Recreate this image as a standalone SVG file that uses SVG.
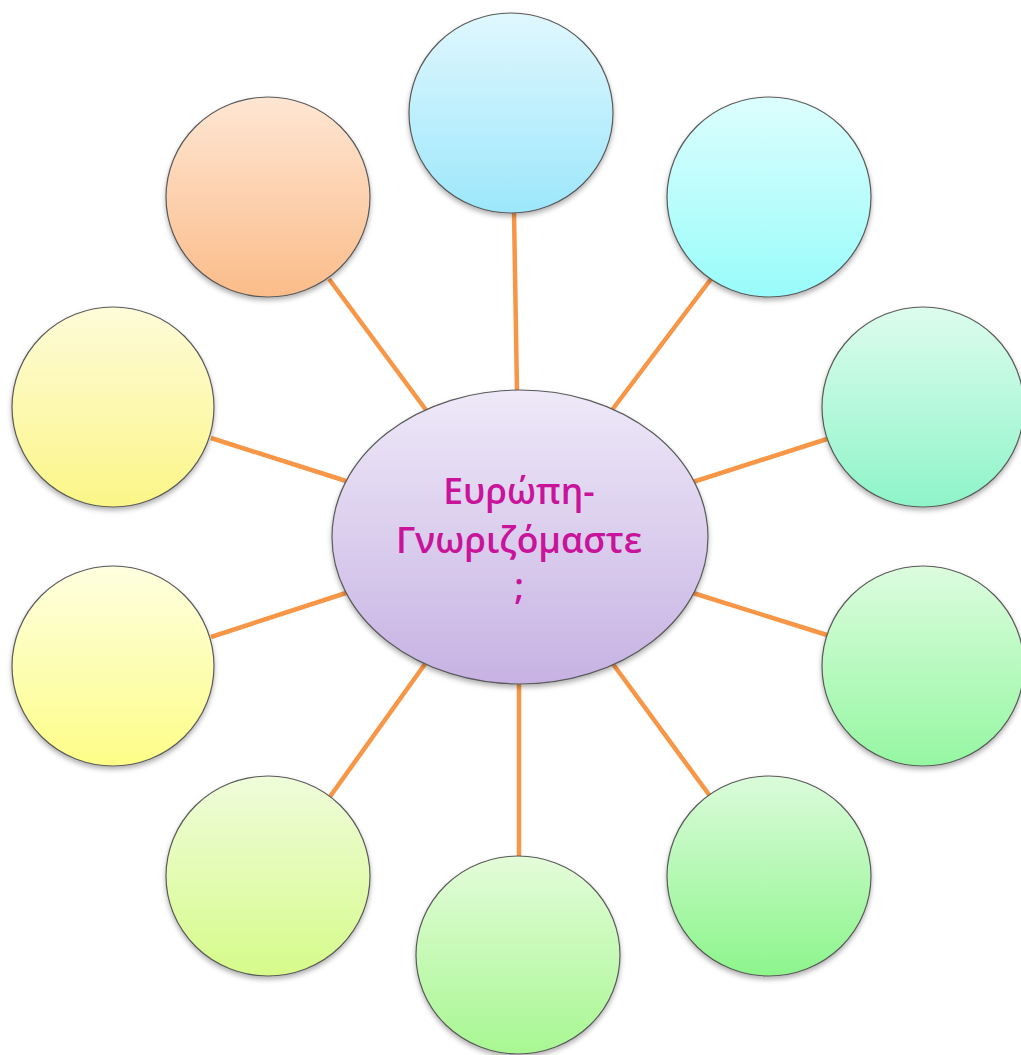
<svg xmlns="http://www.w3.org/2000/svg" width="1021" height="1055" viewBox="0 0 1021 1055">
<style>
.node{stroke:#5a5a5a;stroke-width:1.2;filter:url(#sh)}
.conn line{stroke:#F79646;stroke-width:4.5;stroke-linecap:butt}
.lbl{font-family:"Open Sans","Noto Sans","DejaVu Sans",sans-serif;font-size:35.5px;font-weight:600;fill:#C8139A;text-anchor:middle}
</style>
<defs>
<filter id="sh" x="-10%" y="-10%" width="120%" height="125%">
<feDropShadow dx="0" dy="3" stdDeviation="2.5" flood-color="#000" flood-opacity="0.3"/>
</filter>
<linearGradient id="gC" x1="0" y1="0" x2="0" y2="1"><stop offset="0" stop-color="#EEE9F8"/><stop offset="1" stop-color="#C7B2E3"/></linearGradient>
<linearGradient id="g1" x1="0" y1="0" x2="0" y2="1"><stop offset="0" stop-color="#E0F7FE"/><stop offset="1" stop-color="#9CE7FB"/></linearGradient>
<linearGradient id="g2" x1="0" y1="0" x2="0" y2="1"><stop offset="0" stop-color="#DCFEFD"/><stop offset="1" stop-color="#98FCFA"/></linearGradient>
<linearGradient id="g3" x1="0" y1="0" x2="0" y2="1"><stop offset="0" stop-color="#DDFCEE"/><stop offset="1" stop-color="#8EF4C8"/></linearGradient>
<linearGradient id="g4" x1="0" y1="0" x2="0" y2="1"><stop offset="0" stop-color="#DCFCDE"/><stop offset="1" stop-color="#95F7A2"/></linearGradient>
<linearGradient id="g5" x1="0" y1="0" x2="0" y2="1"><stop offset="0" stop-color="#DBFBDA"/><stop offset="1" stop-color="#8DF58C"/></linearGradient>
<linearGradient id="g6" x1="0" y1="0" x2="0" y2="1"><stop offset="0" stop-color="#E3FCD9"/><stop offset="1" stop-color="#A8F792"/></linearGradient>
<linearGradient id="g7" x1="0" y1="0" x2="0" y2="1"><stop offset="0" stop-color="#EFFCDA"/><stop offset="1" stop-color="#D6FB8A"/></linearGradient>
<linearGradient id="g8" x1="0" y1="0" x2="0" y2="1"><stop offset="0" stop-color="#FEFFDF"/><stop offset="1" stop-color="#FDFD87"/></linearGradient>
<linearGradient id="g9" x1="0" y1="0" x2="0" y2="1"><stop offset="0" stop-color="#FEFBD9"/><stop offset="1" stop-color="#FBF687"/></linearGradient>
<linearGradient id="g10" x1="0" y1="0" x2="0" y2="1"><stop offset="0" stop-color="#FEE6D3"/><stop offset="1" stop-color="#FBBC89"/></linearGradient>
</defs>
<rect width="1021" height="1055" fill="#fff"/>
<g id="connectors" class="conn">
<line x1="517" y1="392" x2="514" y2="212"/>
<line x1="612" y1="410" x2="711" y2="279"/>
<line x1="693" y1="482" x2="827" y2="439"/>
<line x1="693" y1="593" x2="827" y2="635"/>
<line x1="613" y1="664" x2="710" y2="796"/>
<line x1="519" y1="683" x2="519" y2="858"/>
<line x1="425" y1="664" x2="329" y2="798"/>
<line x1="346" y1="593" x2="211" y2="637"/>
<line x1="346" y1="481" x2="211" y2="438"/>
<line x1="426" y1="410" x2="329" y2="279"/>
</g>
<g id="n1"><ellipse class="node" cx="511" cy="113" rx="102" ry="100" fill="url(#g1)"/></g>
<g id="n2"><ellipse class="node" cx="769" cy="197" rx="102" ry="100" fill="url(#g2)"/></g>
<g id="n3"><ellipse class="node" cx="923" cy="407" rx="101" ry="100" fill="url(#g3)"/></g>
<g id="n4"><ellipse class="node" cx="923" cy="666" rx="101" ry="100" fill="url(#g4)"/></g>
<g id="n5"><ellipse class="node" cx="769" cy="876" rx="102" ry="100" fill="url(#g5)"/></g>
<g id="n6"><ellipse class="node" cx="518" cy="955" rx="102" ry="99" fill="url(#g6)"/></g>
<g id="n7"><ellipse class="node" cx="268" cy="876" rx="102" ry="100" fill="url(#g7)"/></g>
<g id="n8"><ellipse class="node" cx="113" cy="666" rx="101" ry="100" fill="url(#g8)"/></g>
<g id="n9"><ellipse class="node" cx="113" cy="407" rx="101" ry="100" fill="url(#g9)"/></g>
<g id="n10"><ellipse class="node" cx="268" cy="197" rx="102" ry="100" fill="url(#g10)"/></g>
<g id="center">
<ellipse class="node" cx="520" cy="537" rx="188" ry="147" fill="url(#gC)"/>
<text class="lbl" x="519" y="504">Ευρώπη-</text>
<text class="lbl" x="519" y="553">Γνωριζόμαστε</text>
<text class="lbl" x="519" y="599">;</text>
</g>
</svg>
